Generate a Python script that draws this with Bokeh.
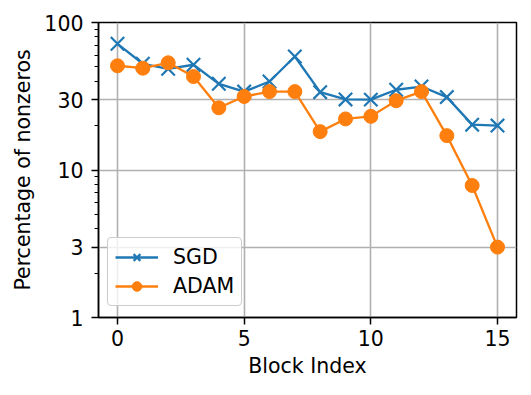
from bokeh.plotting import figure
from bokeh.models import Range1d, FixedTicker, Legend, LegendItem
from bokeh.embed import file_html
from bokeh.resources import INLINE

block_index = list(range(16))
sgd = [71.7, 52.5, 48.5, 51.7, 38.4, 34.0, 39.8, 58.8, 33.7, 30.1, 30.0, 35.0, 36.8, 31.2, 20.3, 20.0]
adam = [50.9, 49.0, 53.3, 43.0, 26.4, 31.5, 34.0, 34.0, 18.2, 22.2, 23.1, 29.5, 34.0, 17.1, 7.85, 3.0]
y_ticks = [1, 3, 10, 30, 100]
y_tick_labels = ["1", "3", "10", "30", "100"]
x_ticks = [0, 5, 10, 15]

FONT = "DejaVu Sans"
FS = "20.5px"

p = figure(width=523, height=387, output_backend="svg", toolbar_location=None,
           y_axis_type="log", x_range=Range1d(-0.75, 15.75), y_range=Range1d(1, 100),
           min_border_left=98, min_border_right=7, min_border_top=22, min_border_bottom=70)

p.outline_line_color = "black"
p.outline_line_width = 1.5
p.background_fill_color = "white"

minor = [2, 4, 5, 6, 7, 8, 9, 20, 40, 50, 60, 70, 80, 90]
p.yaxis.ticker = FixedTicker(ticks=y_ticks, minor_ticks=minor)
p.yaxis.major_label_overrides = {t: s for t, s in zip(y_ticks, y_tick_labels)}
p.xaxis.ticker = FixedTicker(ticks=x_ticks)

for ax in (p.xaxis[0], p.yaxis[0]):
    ax.axis_line_color = "black"
    ax.axis_line_width = 1.5
    ax.major_tick_line_color = "black"
    ax.major_tick_line_width = 1.5
    ax.minor_tick_line_color = "black"
    ax.minor_tick_line_width = 1.2
    ax.major_tick_in = 0
    ax.major_tick_out = 7
    ax.minor_tick_in = 0
    ax.minor_tick_out = 4
    ax.major_label_text_font = FONT
    ax.major_label_text_font_size = FS
    ax.major_label_text_color = "black"
    ax.axis_label_text_font = FONT
    ax.axis_label_text_font_size = FS
    ax.axis_label_text_font_style = "normal"
    ax.axis_label_text_color = "black"

p.xaxis.minor_tick_line_color = None
p.xaxis.axis_label = "Block Index"
p.yaxis.axis_label = "Percentage of nonzeros"
p.xaxis.major_label_standoff = 5
p.yaxis.major_label_standoff = 8
p.xaxis.axis_label_standoff = 5
p.yaxis.axis_label_standoff = 6

p.xgrid.ticker = FixedTicker(ticks=x_ticks)
p.ygrid.ticker = FixedTicker(ticks=y_ticks)
for g in (p.xgrid[0], p.ygrid[0]):
    g.grid_line_color = "#b0b0b0"
    g.grid_line_width = 1.6

blue = "#1f77b4"
orange = "#ff7f0e"

l1 = p.line(block_index, sgd, line_color=blue, line_width=2.3)
m1 = p.scatter(block_index, sgd, marker="x", size=19, line_color=blue, line_width=2.2)
l2 = p.line(block_index, adam, line_color=orange, line_width=2.3)
m2 = p.scatter(block_index, adam, marker="circle", size=14, fill_color=orange, line_color=orange, line_width=1)

legend = Legend(items=[LegendItem(label="SGD", renderers=[l1, m1]),
                       LegendItem(label="ADAM", renderers=[l2, m2])],
                location=(9, 11), orientation="vertical")
legend.label_text_font = FONT
legend.label_text_font_size = FS
legend.label_text_color = "black"
legend.glyph_width = 43
legend.glyph_height = 24
legend.label_height = 24
legend.label_standoff = 15
legend.spacing = 5
legend.padding = 7
legend.margin = 0
legend.border_line_color = "#cccccc"
legend.border_line_width = 1.5
legend.border_line_alpha = 1
legend.background_fill_color = "white"
legend.background_fill_alpha = 0.8
try:
    legend.border_radius = 4
except Exception:
    pass
p.add_layout(legend, "center")

open("out.html", "w").write(file_html(p, INLINE))
